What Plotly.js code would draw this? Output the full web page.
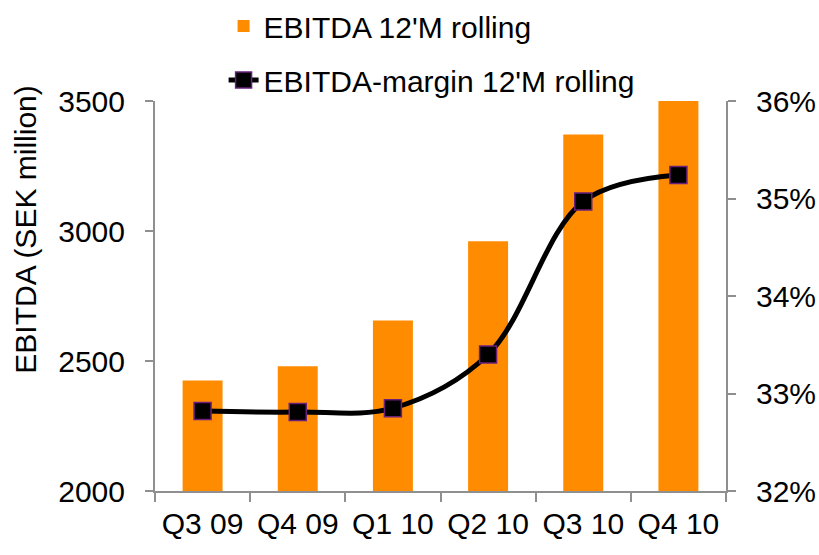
<!DOCTYPE html>
<html>
<head>
<meta charset="utf-8">
<script src="https://cdn.plot.ly/plotly-3.0.1.min.js"></script>
<style>html,body{margin:0;padding:0;background:#fff;}#chart{width:819px;height:555px;}</style>
</head>
<body>
<div id="chart"></div>
<script>
var categories = ["Q3 09", "Q4 09", "Q1 10", "Q2 10", "Q3 10", "Q4 10"];
var ebitda = [2425, 2480, 2656, 2961, 3371, 3510];
var margin = [32.82, 32.81, 32.85, 33.40, 34.97, 35.24];
var leftTicks = [2000, 2500, 3000, 3500];
var rightTicks = [32, 33, 34, 35, 36];

var FONT = "Liberation Sans, Arial, sans-serif";
var AXIS = "#8f8f8f";
var FS = 30;

var traces = [
  {
    type: "bar", x: categories, y: ebitda, name: "EBITDA 12'M rolling",
    marker: {color: "#FF8C00"}, legendgroup: "a", yaxis: "y"
  },
  {
    type: "scatter", mode: "lines+markers", x: categories, y: margin,
    name: "EBITDA-margin 12'M rolling", yaxis: "y2", legendgroup: "b",
    line: {color: "#000000", width: 5, shape: "spline", smoothing: 1},
    marker: {symbol: "square", size: 17, color: "#000000", line: {color: "#6b1f7b", width: 1.5}}
  }
];

var layout = {
  width: 819, height: 555,
  margin: {l: 155, r: 93, t: 101, b: 64, autoexpand: false},
  paper_bgcolor: "#ffffff", plot_bgcolor: "#ffffff",
  font: {family: FONT, size: FS, color: "#000000"},
  bargap: 0.58,
  showlegend: true,
  legend: {
    x: 0.273, y: 1.0, xref: "container", yref: "container", xanchor: "left", yanchor: "top",
    font: {family: FONT, size: FS, color: "#000"},
    traceorder: "grouped", tracegroupgap: 12, bgcolor: "rgba(0,0,0,0)"
  },
  xaxis: {
    type: "category", showline: true, linecolor: AXIS, linewidth: 2, tickangle: 0, automargin: false,
    ticks: "outside", tickson: "boundaries", ticklen: 9, tickwidth: 2, tickcolor: AXIS,
    showgrid: false, zeroline: false, tickfont: {family: FONT, size: FS}, ticklabelstandoff: 5
  },
  yaxis: {
    range: [2000, 3500], tickvals: leftTicks, ticktext: leftTicks.map(String), automargin: false,
    showline: true, linecolor: AXIS, linewidth: 2, ticks: "outside", ticklen: 8, tickwidth: 2, tickcolor: AXIS,
    showgrid: false, zeroline: false, tickfont: {family: FONT, size: FS}, ticklabelstandoff: 14
  },
  yaxis2: {
    range: [32, 36], tickvals: rightTicks, ticktext: rightTicks.map(function (v) { return v + "%"; }),
    overlaying: "y", side: "right", automargin: false,
    showline: true, linecolor: AXIS, linewidth: 2, ticks: "outside", ticklen: 8, tickwidth: 2, tickcolor: AXIS,
    showgrid: false, zeroline: false, tickfont: {family: FONT, size: FS}, ticklabelstandoff: 14
  },
  annotations: [{
    text: "EBITDA (SEK million)", textangle: -90, xref: "paper", yref: "paper",
    x: -0.226, y: 0.67, xanchor: "center", yanchor: "middle", showarrow: false,
    font: {family: FONT, size: FS, color: "#000"}
  }]
};

Plotly.newPlot("chart", traces, layout, {displayModeBar: false, staticPlot: true});
</script>
</body>
</html>
